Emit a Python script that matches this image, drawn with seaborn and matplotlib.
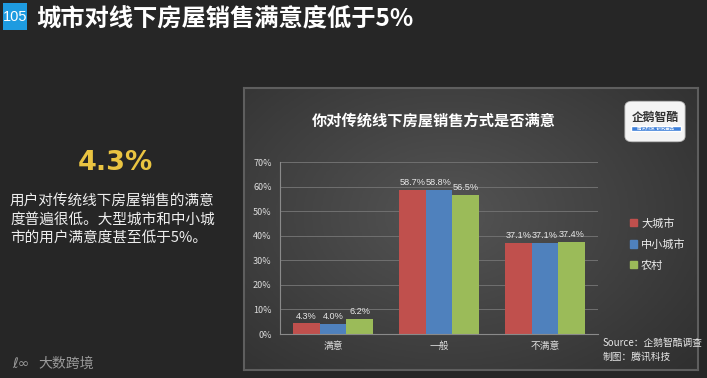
import numpy as np
import pandas as pd
import matplotlib.pyplot as plt
import matplotlib.patches as mpatches
from matplotlib.patches import FancyBboxPatch, Rectangle
import seaborn as sns

# 数据
categories = ['满意', '一般', '不满意']
regions = ['大城市', '中小城市', '农村']
big_city = [4.3, 58.7, 37.1]
small_city = [4.0, 58.8, 37.1]
rural = [6.2, 56.5, 37.4]
y_ticks = [0, 10, 20, 30, 40, 50, 60, 70]

colors = ['#C0504D', '#4F81BD', '#9BBB59']

df = pd.DataFrame({
    '满意度': categories * 3,
    '比例': big_city + small_city + rural,
    '地区': [r for r in regions for _ in categories],
})

sns.set_theme(style='dark')
plt.rcParams['font.family'] = ['Noto Sans CJK SC', 'DejaVu Sans']

W, H = 707, 378
fig = plt.figure(figsize=(W / 100, H / 100), dpi=100)
fig.patch.set_facecolor('#262626')


def box(x0, y0, x1, y1):
    # pixel box (top-left origin) -> figure fraction rect
    return [x0 / W, 1 - y1 / H, (x1 - x0) / W, (y1 - y0) / H]


# 面板背景（渐变）
bg = fig.add_axes(box(244, 88, 698, 370))
yy, xx = np.mgrid[0:1:200j, 0:1:300j]
r = np.sqrt(((xx - 0.45) / 0.8) ** 2 + ((yy - 0.45) / 0.9) ** 2)
bg.imshow(np.clip(r, 0, 1), cmap=sns.blend_palette(['#545454', '#2c2c2c'], as_cmap=True),
          aspect='auto', extent=[0, 1, 0, 1], vmin=0, vmax=1)
bg.set_xlim(0, 1)
bg.set_ylim(0, 1)
bg.set_xticks([])
bg.set_yticks([])
for s in bg.spines.values():
    s.set_color('#5e5e5e')
    s.set_linewidth(1.5)

# 主图
ax = fig.add_axes(box(280, 162, 598, 334))
ax.set_facecolor('none')
sns.barplot(data=df, x='满意度', y='比例', hue='地区', palette=colors,
            width=0.75, saturation=1, linewidth=0, ax=ax, legend=False)
for cont in ax.containers:
    ax.bar_label(cont, fmt='%.1f%%', padding=2, fontsize=6.6, color='#e8e8e8',
                 family=['Liberation Sans'])
ax.set_ylim(0, 70)
ax.set_xlim(-0.5, 2.5)
ax.set_yticks(y_ticks)
ax.set_yticklabels([f'{t}%' for t in y_ticks])
ax.tick_params(axis='y', labelsize=6.5, labelcolor='#dddddd', pad=6, length=0)
ax.tick_params(axis='x', labelsize=7, labelcolor='#dddddd', pad=5, length=0)
ax.set_xlabel('')
ax.set_ylabel('')
ax.yaxis.grid(True, color='#707070', linewidth=0.7)
ax.xaxis.grid(False)
ax.set_axisbelow(True)
for k in ['top', 'right']:
    ax.spines[k].set_visible(False)
for k in ['left', 'bottom']:
    ax.spines[k].set_visible(True)
    ax.spines[k].set_color('#8a8a8a')
    ax.spines[k].set_linewidth(0.8)

# 图例
handles = [mpatches.Patch(color=c, label=l) for c, l in zip(colors, regions)]
fig.legend(handles=handles, loc='upper left', bbox_to_anchor=(620 / W, 1 - 208 / H),
           frameon=False, fontsize=8, labelcolor='#eeeeee', handlelength=0.6,
           handleheight=0.6, handletextpad=0.4, labelspacing=0.95)

# 图表标题
fig.text(434 / W, 1 - 121 / H, '你对传统线下房屋销售方式是否满意', ha='center', va='center',
         fontsize=11, fontweight='bold', color='white')

# 企鹅智酷 logo
logo = fig.add_axes(box(623, 99, 687, 144))
logo.set_axis_off()
logo.set_xlim(0, 1)
logo.set_ylim(0, 1)
logo.add_patch(FancyBboxPatch((0.03, 0.05), 0.94, 0.9, boxstyle='round,pad=0,rounding_size=0.12',
                              facecolor='#f4f4f4', edgecolor='#bbbbbb', lw=0.6))
logo.text(0.5, 0.6, '企鹅智酷', ha='center', va='center', fontsize=8.5,
          fontweight='bold', color='#333333')
logo.add_patch(Rectangle((0.12, 0.28), 0.78, 0.13, facecolor='#3d7fd9'))
logo.text(0.51, 0.345, '腾讯科技  研究出品', ha='center', va='center', fontsize=3.2, color='white')

# 来源
fig.text(603 / W, 1 - 343 / H, 'Source：企鹅智酷调查', fontsize=7, color='#e6e6e6',
         style='italic', va='center')
fig.text(603 / W, 1 - 357 / H, '制图：腾讯科技', fontsize=7, color='#e6e6e6',
         style='italic', va='center')

# 页眉
fig.patches.append(Rectangle((3 / W, 1 - 30 / H), 24 / W, 27 / H, transform=fig.transFigure,
                             facecolor='#1E9BE0', edgecolor='none'))
fig.text(15 / W, 1 - 17 / H, '105', ha='center', va='center', fontsize=10.5,
         color='white', family=['Liberation Sans'])
fig.text(36 / W, 1 - 19 / H, '城市对线下房屋销售满意度低于5%', ha='left', va='center',
         fontsize=17.5, fontweight='bold', color='white')

# 左侧说明
fig.text(115 / W, 1 - 163 / H, '4.3%', ha='center', va='center', fontsize=19.5,
         fontweight='bold', color='#EAC441', family=['DejaVu Sans'])
lines = ['用户对传统线下房屋销售的满意', '度普遍很低。大型城市和中小城', '市的用户满意度甚至低于5%。']
for i, t in enumerate(lines):
    fig.text(10 / W, 1 - (202 + 18 * i) / H, t, ha='left', va='center', fontsize=10.5,
             color='#eeeeee')

# 底部 logo
fig.text(12 / W, 1 - 364 / H, 'ℓ∞', ha='left', va='center', fontsize=10, color='#9a9a9a',
         family=['DejaVu Sans'])
fig.text(38 / W, 1 - 364 / H, '大数跨境', ha='left', va='center', fontsize=10, color='#9a9a9a')

fig.savefig('out.png', dpi=100, facecolor=fig.get_facecolor())
